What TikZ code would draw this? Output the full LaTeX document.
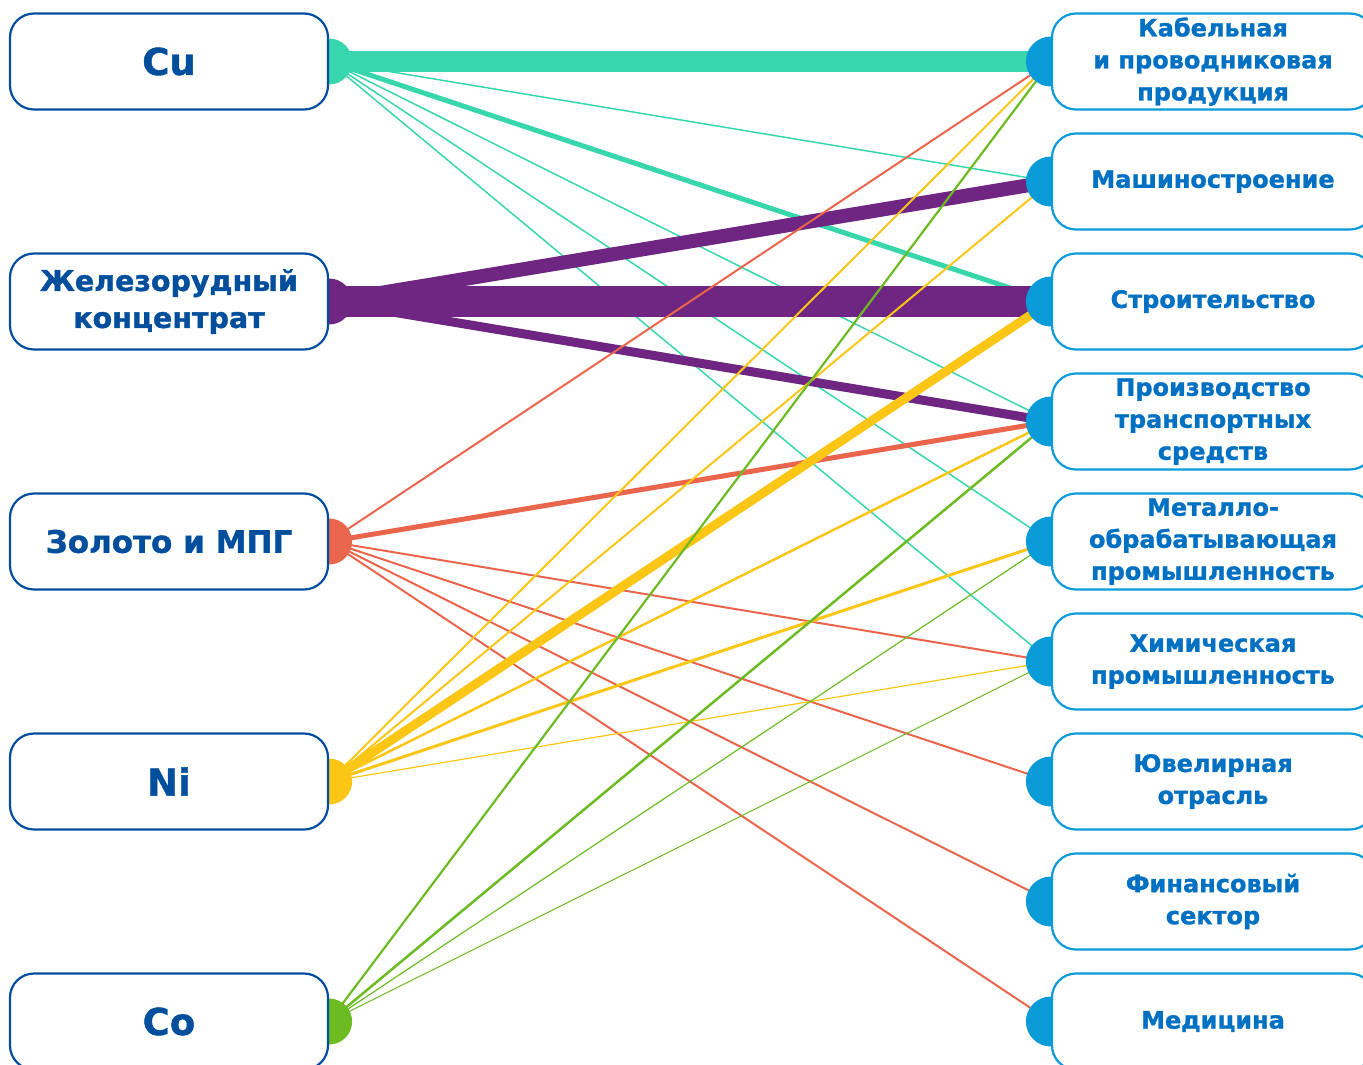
\documentclass[tikz,border=0pt]{standalone}
\usepackage{fontspec}
\setmainfont{DejaVu Sans}[BoldFeatures={FakeBold=1.2}]
\definecolor{srcblue}{HTML}{004E9C}
\definecolor{dstblue}{HTML}{0A9BD8}
\definecolor{dsttext}{HTML}{0070C2}
\definecolor{cuc}{HTML}{38D6AC}
\definecolor{fec}{HTML}{6F2582}
\definecolor{auc}{HTML}{E9664C}
\definecolor{nic}{HTML}{FBC616}
\definecolor{coc}{HTML}{6CBB22}
\pgfdeclarelayer{lines}
\pgfdeclarelayer{dots}
\pgfsetlayers{lines,dots,main}

\begin{document}
\begin{tikzpicture}[x=1pt,y=-1pt]
  \tikzset{src/.style={draw=srcblue,line width=2.2pt,fill=white,rounded corners=24pt,minimum width=318pt,minimum height=96pt,align=center,text=srcblue,font=\bfseries\fontsize{28.5}{37}\selectfont},
    big/.style={font=\bfseries\fontsize{37}{44}\selectfont},
    dst/.style={draw=dstblue,line width=2.2pt,fill=white,rounded corners=24pt,minimum width=322pt,minimum height=96pt,align=center,text=dsttext,font=\bfseries\fontsize{24}{32}\selectfont}}
  \clip (0,0) rectangle (1363,1065);
  \node[src,big] (cu) at (169, 61.5) {Cu};
  \node[src] (fe) at (169, 301.5) {Железорудный\\концентрат};
  \node[src,font=\bfseries\fontsize{31}{38}\selectfont] (au) at (169, 541.5) {Золото и МПГ};
  \node[src,big] (ni) at (169, 781.5) {Ni};
  \node[src,big] (co) at (169, 1021.5) {Co};
  \node[dst] (kab) at (1213, 61.5) {Кабельная\\и проводниковая\\продукция};
  \node[dst] (mash) at (1213, 181.5) {Машиностроение};
  \node[dst] (stroy) at (1213, 301.5) {Строительство};
  \node[dst] (trans) at (1213, 421.5) {Производство\\транспортных\\средств};
  \node[dst] (metal) at (1213, 541.5) {Металло-\\обрабатывающая\\промышленность};
  \node[dst] (chem) at (1213, 661.5) {Химическая\\промышленность};
  \node[dst] (jew) at (1213, 781.5) {Ювелирная\\отрасль};
  \node[dst] (fin) at (1213, 901.5) {Финансовый\\сектор};
  \node[dst] (med) at (1213, 1021.5) {Медицина};
  % half circles behind the boxes
  \begin{pgfonlayer}{dots}
    \foreach \n/\c in {cu/cuc,fe/fec,au/auc,ni/nic,co/coc}
      \fill[\c] (\n.east) circle (23);
    \foreach \n in {kab,mash,stroy,trans,metal,chem,jew,fin,med}
      \fill[dstblue] (\n.west) circle (25);
  \end{pgfonlayer}
  \begin{pgfonlayer}{lines}
    \path[draw=cuc] (cu.east) edge[line width=21pt] (kab.west)
      edge[line width=1.5pt] (mash.west)
      edge[line width=5pt] (stroy.west)
      edge[line width=1.5pt] (trans.west)
      edge[line width=1.5pt] (metal.west)
      edge[line width=1.5pt] (chem.west);
    \path[draw=fec] (fe.east) edge[line width=14pt] (mash.west)
      edge[line width=31pt] (stroy.west)
      edge[line width=9pt] (trans.west);
    \path[draw=auc] (au.east) edge[line width=2pt] (kab.west)
      edge[line width=5pt] (trans.west)
      edge[line width=2pt] (chem.west)
      edge[line width=2pt] (jew.west)
      edge[line width=2pt] (fin.west)
      edge[line width=2pt] (med.west);
    \path[draw=nic] (ni.east) edge[line width=2pt] (kab.west)
      edge[line width=2pt] (mash.west)
      edge[line width=9pt] (stroy.west)
      edge[line width=2.5pt] (trans.west)
      edge[line width=3pt] (metal.west)
      edge[line width=1.2pt] (chem.west);
    \path[draw=coc] (co.east) edge[line width=2.2pt] (kab.west)
      edge[line width=2.5pt] (trans.west)
      edge[line width=1.2pt] (metal.west)
      edge[line width=1pt] (chem.west);
  \end{pgfonlayer}
\end{tikzpicture}
\end{document}
